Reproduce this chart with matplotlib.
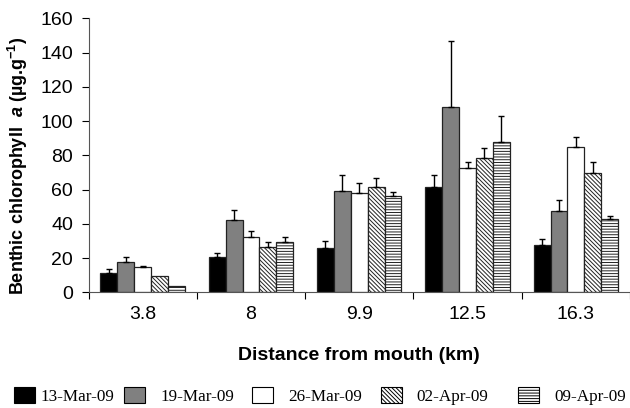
#!/usr/bin/env python3
"""Benthic chlorophyll a by distance from mouth, five sampling dates."""
import matplotlib

matplotlib.use("Agg")
import matplotlib.pyplot as plt
import numpy as np
from matplotlib.patches import Patch

distances = ["3.8", "8", "9.9", "12.5", "16.3"]
dates = ["13-Mar-09", "19-Mar-09", "26-Mar-09", "02-Apr-09", "09-Apr-09"]

# means per date (one value per distance)
mar13 = [11.1, 20.8, 25.7, 61.5, 27.8]
mar19 = [17.6, 42.2, 59.3, 108.4, 47.6]
mar26 = [14.8, 32.3, 57.8, 72.8, 84.8]
apr02 = [9.3, 26.6, 61.3, 78.2, 69.5]
apr09 = [3.7, 29.2, 56.1, 87.9, 43.0]

# upper error (SE) per date
mar13_err = [2.5, 2.0, 4.4, 6.8, 3.5]
mar19_err = [3.2, 5.8, 9.2, 38.3, 6.1]
mar26_err = [0.4, 3.3, 6.2, 3.1, 5.8]
apr02_err = [0.0, 2.8, 5.6, 6.2, 6.8]
apr09_err = [0.0, 3.1, 2.6, 15.2, 1.7]

means = [mar13, mar19, mar26, apr02, apr09]
errs = [mar13_err, mar19_err, mar26_err, apr02_err, apr09_err]

styles = [
    dict(color="black", hatch=None),
    dict(color="#808080", hatch=None),
    dict(color="white", hatch=None),
    dict(color="white", hatch="\\" * 8),
    dict(color="white", hatch="-" * 6),
]

plt.rcParams["font.family"] = ["Liberation Sans", "DejaVu Sans"]
plt.rcParams["hatch.linewidth"] = 0.7
plt.rcParams["mathtext.fontset"] = "custom"
plt.rcParams["mathtext.rm"] = "Liberation Sans:bold"
plt.rcParams["mathtext.it"] = "Liberation Sans:bold:italic"
plt.rcParams["mathtext.bf"] = "Liberation Sans:bold"

fig = plt.figure(figsize=(6.3, 4.08), dpi=100)
ax = fig.add_axes([0.1405, 0.2836, 0.8595, 0.6714])

x = np.arange(len(distances))
width = 0.156
n = len(dates)
for i, (m, e, st) in enumerate(zip(means, errs, styles)):
    pos = x + (i - (n - 1) / 2) * width
    ax.bar(pos, m, width=width, color=st["color"], hatch=st["hatch"],
           edgecolor="#222222", linewidth=0.9, zorder=2)
    e = np.array(e)
    keep = e > 0
    ax.errorbar(pos[keep], np.array(m)[keep],
                yerr=[np.zeros(keep.sum()), e[keep]],
                fmt="none", ecolor="black", elinewidth=1.0,
                capsize=2.5, capthick=1.0, zorder=3)

ax.set_xlim(-0.5, len(distances) - 0.5)
ax.set_ylim(0, 160)
ax.set_yticks(range(0, 161, 20))
ax.set_xticks(x)
ax.set_xticklabels(distances)
ax.set_xticks(np.arange(-0.5, len(distances)), minor=True)
ax.tick_params(axis="x", which="major", length=0, pad=10, labelsize=14)
ax.tick_params(axis="x", which="minor", length=5, direction="out", width=0.8)
ax.tick_params(axis="y", length=5, width=0.8, labelsize=14, pad=6)
for side in ("top", "right"):
    ax.spines[side].set_visible(False)
for side in ("left", "bottom"):
    ax.spines[side].set_linewidth(0.8)
    ax.spines[side].set_color("#555555")

ax.set_ylabel(r"Benthic chlorophyll  $a$ (µg.g$^{-1}$)",
              fontsize=13, fontweight="bold")
ax.yaxis.set_label_coords(-0.108, 0.46)
ax.set_xlabel("Distance from mouth (km)", fontsize=14,
              fontweight="bold", labelpad=17)

# legend entries spread unevenly along the bottom, as in the original
legend_x = [14, 124, 252, 381, 518]
text_gap = [6, 16, 16, 15, 16]
for lbl, st, lx, gap in zip(dates, styles, legend_x, text_gap):
    h = Patch(facecolor=st["color"], hatch=st["hatch"], edgecolor="black",
              linewidth=0.8)
    fig.legend([h], [lbl], loc="center left",
               bbox_to_anchor=(lx / 630, 1 - 396 / 408),
               frameon=False, borderpad=0, borderaxespad=0,
               handlelength=1.2, handleheight=1.0,
               handletextpad=gap / 17,
               prop={"family": "Liberation Serif", "size": 12.3})

fig.savefig("out.png", dpi=100)
